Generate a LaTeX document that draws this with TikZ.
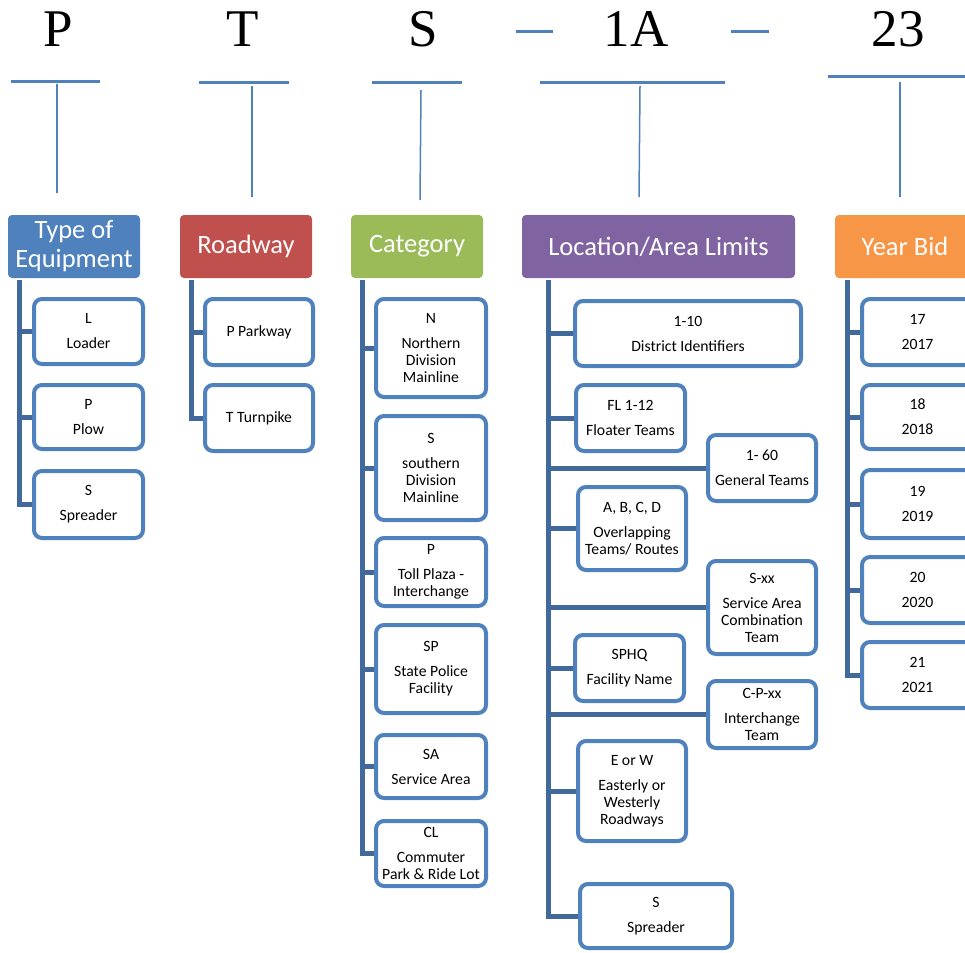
\documentclass[tikz,border=0pt]{standalone}
\usepackage{fontspec}
\setmainfont{Carlito}
\newfontfamily\timesf{Liberation Serif}
\definecolor{acc}{HTML}{4F81BD}
\definecolor{trk}{HTML}{41699C}
\definecolor{hblue}{HTML}{4F81BD}
\definecolor{hred}{HTML}{C0504D}
\definecolor{hgreen}{HTML}{9BBB59}
\definecolor{hpurple}{HTML}{8064A2}
\definecolor{horange}{HTML}{F79646}
\tikzset{
  big/.style={font=\timesf\fontsize{53}{60}\selectfont, anchor=base, inner sep=0pt},
  topline/.style={draw=acc, line width=1.5pt},
  topbar/.style={draw=acc, line width=3pt},
  hdr/.style={rectangle, rounded corners=4pt, text=white, align=center, inner sep=0pt,
    font=\fontsize{26.5}{29}\selectfont, minimum height=63pt},
  child/.style={rectangle, rounded corners=8pt, draw=acc, line width=4pt, fill=white,
    align=center, inner sep=0pt, font=\fontsize{15.7}{17}\selectfont},
  trunk/.style={draw=trk, line width=5pt},
}
\begin{document}
\begin{tikzpicture}[x=1pt,y=-1pt]
\path[use as bounding box, clip] (0,0) rectangle (965,952);
% top code letters
\node[big] (lP) at (58,47) {P};
\node[big] (lT) at (243,47) {T};
\node[big] (lS) at (423,47) {S};
\node[big] (l1A) at (636,47) {1A};
\node[big] (l23) at (898,47) {23};
\coordinate (d1a) at (516,32); \coordinate (d1b) at (553,32);
\coordinate (d2a) at (731,32); \coordinate (d2b) at (769,32);
\draw[topbar] (d1a) -- (d1b);
\draw[topbar] (d2a) -- (d2b);
% top bars and stems
\coordinate (bPa) at (11,82); \coordinate (bPb) at (100,82);
\coordinate (bTa) at (199,83); \coordinate (bTb) at (289,83);
\coordinate (bSa) at (372,83); \coordinate (bSb) at (462,83);
\coordinate (bAa) at (540,83); \coordinate (bAb) at (725,83);
\coordinate (bYa) at (828,77); \coordinate (bYb) at (970,77);
\draw[topbar] (bPa) -- (bPb);
\draw[topbar] (bTa) -- (bTb);
\draw[topbar] (bSa) -- (bSb);
\draw[topbar] (bAa) -- (bAb);
\draw[topbar] (bYa) -- (bYb);
\coordinate (sPa) at (57,84); \coordinate (sPb) at (57,193);
\coordinate (sTa) at (252,86); \coordinate (sTb) at (252,197);
\coordinate (sSa) at (421,90); \coordinate (sSb) at (420,200);
\coordinate (sAa) at (640,86); \coordinate (sAb) at (639,197);
\coordinate (sYa) at (900,82); \coordinate (sYb) at (900,197);
\draw[topline] (sPa) -- (sPb);
\draw[topline] (sTa) -- (sTb);
\draw[topline] (sSa) -- (sSb);
\draw[topline] (sAa) -- (sAb);
\draw[topline] (sYa) -- (sYb);
% headers
\node[hdr, fill=hblue, minimum width=132pt] (hT) at (74,246.5) {Type of\\Equipment};
\node[hdr, fill=hred, minimum width=132pt] (hR) at (246,246.5) {Roadway};
\node[hdr, fill=hgreen, minimum width=132pt] (hC) at (417,246.5) {Category};
\node[hdr, fill=hpurple, minimum width=273pt] (hL) at (658.5,246.5) {Location/Area Limits};
\node[hdr, fill=horange, minimum width=140pt] (hY) at (905,246.5) {Year Bid};
% trunk tops
\coordinate (tT) at (19,280);
\coordinate (tR) at (191,280);
\coordinate (tC) at (362,280);
\coordinate (tL) at (548,280);
\coordinate (tY) at (847,280);
% Type of Equipment children
\node[child, minimum width=109pt, minimum height=65pt] (t1) at (88.5,331.5) {L\\[8pt]Loader};
\node[child, minimum width=109pt, minimum height=64pt] (t2) at (88.5,417) {P\\[8pt]Plow};
\node[child, minimum width=109pt, minimum height=67pt] (t3) at (88.5,504.5) {S\\[8pt]Spreader};
% Roadway children
\node[child, minimum width=108pt, minimum height=66pt] (r1) at (259,332) {P Parkway};
\node[child, minimum width=108pt, minimum height=66pt] (r2) at (259,418) {T Turnpike};
% Category children
\node[child, minimum width=110pt, minimum height=98pt] (c1) at (431,348) {N\\[8pt]Northern\\Division\\Mainline};
\node[child, minimum width=110pt, minimum height=104pt] (c2) at (431,468) {S\\[8pt]southern\\Division\\Mainline};
\node[child, minimum width=110pt, minimum height=68pt] (c3) at (431,572) {P\\[8pt]Toll Plaza -\\Interchange};
\node[child, minimum width=110pt, minimum height=88pt] (c4) at (431,669) {SP\\[8pt]State Police\\Facility};
\node[child, minimum width=110pt, minimum height=63pt] (c5) at (431,766.5) {SA\\[8pt]Service Area};
\node[child, minimum width=110pt, minimum height=65pt] (c6) at (431,853.5) {CL\\[8pt]Commuter\\Park \& Ride Lot};
% Location children
\node[child, minimum width=226pt, minimum height=65pt] (a1) at (688,333.5) {1-10\\[8pt]District Identifiers};
\node[child, minimum width=109pt, minimum height=66pt] (a2) at (630.5,418) {FL 1-12\\[8pt]Floater Teams};
\node[child, minimum width=108pt, minimum height=66pt] (a3) at (762,468) {1- 60\\[8pt]General Teams};
\node[child, minimum width=108pt, minimum height=83pt] (a4) at (632,528.5) {A, B, C, D\\[8pt]Overlapping\\Teams/ Routes};
\node[child, minimum width=108pt, minimum height=93pt] (a5) at (762,607.5) {S-xx\\[8pt]Service Area\\Combination\\Team};
\node[child, minimum width=109pt, minimum height=66pt] (a6) at (629.5,668) {SPHQ\\[8pt]Facility Name};
\node[child, minimum width=108pt, minimum height=67pt] (a7) at (762,714.5) {C-P-xx\\[8pt]Interchange\\Team};
\node[child, minimum width=108pt, minimum height=100pt] (a8) at (632,791) {E or W\\[8pt]Easterly or\\Westerly\\Roadways};
\node[child, minimum width=152pt, minimum height=64pt] (a9) at (656,916) {S\\[8pt]Spreader};
% Year Bid children
\node[child, minimum width=111pt, minimum height=66pt] (y1) at (917.5,332) {17\\[8pt]2017};
\node[child, minimum width=111pt, minimum height=64pt] (y2) at (917.5,417) {18\\[8pt]2018};
\node[child, minimum width=111pt, minimum height=68pt] (y3) at (917.5,504) {19\\[8pt]2019};
\node[child, minimum width=111pt, minimum height=66pt] (y4) at (917.5,590) {20\\[8pt]2020};
\node[child, minimum width=111pt, minimum height=66pt] (y5) at (917.5,675) {21\\[8pt]2021};
% trunks and branches
\foreach \c in {t1,t2,t3} \draw[trunk] (tT) |- (\c.west);
\foreach \c in {r1,r2} \draw[trunk] (tR) |- (\c.west);
\foreach \c in {c1,c2,c3,c4,c5,c6} \draw[trunk] (tC) |- (\c.west);
\foreach \c in {a1,a2,a3,a4,a5,a6,a7,a8,a9} \draw[trunk] (tL) |- (\c.west);
\foreach \c in {y1,y2,y3,y4,y5} \draw[trunk] (tY) |- (\c.west);
\end{tikzpicture}
\end{document}
